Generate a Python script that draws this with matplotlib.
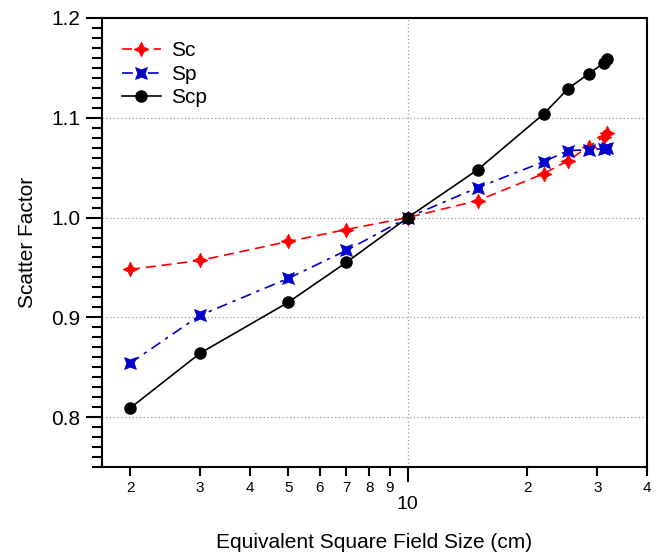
import matplotlib
matplotlib.use("Agg")
import matplotlib.pyplot as plt
import numpy as np
from matplotlib.path import Path
from matplotlib.ticker import FixedLocator, FixedFormatter

plt.rcParams['font.family'] = ['Liberation Sans', 'DejaVu Sans']

# field sizes (cm) and scatter factors
field = [2, 3, 5, 7, 10, 15, 22, 25.3, 28.5, 31.2, 31.8]
sc = [0.948, 0.957, 0.976, 0.988, 1.000, 1.017, 1.044, 1.057, 1.071, 1.081, 1.085]
sp = [0.854, 0.902, 0.939, 0.967, 1.000, 1.030, 1.056, 1.067, 1.068, 1.069, 1.070]
scp = [0.809, 0.864, 0.915, 0.955, 1.000, 1.048, 1.104, 1.129, 1.144, 1.155, 1.159]

minor_x = [2, 3, 4, 5, 6, 7, 8, 9, 20, 30, 40]
minor_lbl = ['2', '3', '4', '5', '6', '7', '8', '9', '2', '3', '4']


# four pointed star (points up/down/left/right)
def star4(inner):
    v = [(0, 1), (inner, inner), (1, 0), (inner, -inner),
         (0, -1), (-inner, -inner), (-1, 0), (-inner, inner), (0, 1)]
    codes = [Path.MOVETO] + [Path.LINETO] * 7 + [Path.CLOSEPOLY]
    return Path(v, codes)


# square with pinched sides (points at the corners)
def pinched_square(inner):
    v = [(1, 1), (0, inner), (-1, 1), (-inner, 0),
         (-1, -1), (0, -inner), (1, -1), (inner, 0), (1, 1)]
    codes = [Path.MOVETO] + [Path.LINETO] * 7 + [Path.CLOSEPOLY]
    return Path(v, codes)


fig = plt.figure(figsize=(6.57, 5.53), dpi=100)
ax = fig.add_axes([0.1553, 0.1555, 0.8295, 0.812])

ax.plot(field, sc, color='#ff0000', lw=1.2, linestyle=(0, (6, 3.5)),
        marker=star4(0.33), markersize=10.5, markeredgewidth=0.6, label='Sc')
ax.plot(field, sp, color='#0000cc', lw=1.2, linestyle=(0, (6.5, 3.5, 2, 3.5)),
        marker=pinched_square(0.62), markersize=8.5, markeredgewidth=0.6, label='Sp')
ax.plot(field, scp, color='black', lw=1.2, linestyle='-',
        marker='o', markersize=8, label='Scp')

ax.set_xscale('log')
ax.set_xlim(1.7, 40)
ax.set_ylim(0.75, 1.2)

ax.xaxis.set_major_locator(FixedLocator([10]))
ax.xaxis.set_major_formatter(FixedFormatter(['10']))
ax.xaxis.set_minor_locator(FixedLocator(minor_x))
ax.xaxis.set_minor_formatter(FixedFormatter(minor_lbl))

ax.set_yticks([0.8, 0.9, 1.0, 1.1, 1.2])
ax.set_yticklabels(['0.8', '0.9', '1.0', '1.1', '1.2'])
ax.yaxis.set_minor_locator(FixedLocator(np.arange(0.75, 1.2001, 0.01)))

ax.tick_params(axis='x', which='major', direction='out', length=11, width=1.5,
               labelsize=14, pad=10)
ax.tick_params(axis='x', which='minor', direction='out', length=6.5, width=1.5,
               labelsize=11, pad=3.5)
ax.tick_params(axis='y', which='major', direction='out', length=11.5, width=1.5,
               labelsize=15, pad=4)
ax.tick_params(axis='y', which='minor', direction='out', length=7, width=1.5)

for s in ax.spines.values():
    s.set_linewidth(1.5)

ax.grid(True, which='major', color='#999999', linestyle=(0, (1, 2)), lw=0.9)

ax.set_xlabel('Equivalent Square Field Size (cm)', fontsize=15, labelpad=14)
ax.set_ylabel('Scatter Factor', fontsize=15, labelpad=10)

ax.legend(loc='upper left', bbox_to_anchor=(0.037, 0.948), frameon=False,
          fontsize=15, borderpad=0, borderaxespad=0, handlelength=1.85,
          handletextpad=0.5, labelspacing=0.22)

fig.savefig('out.png', dpi=100)
